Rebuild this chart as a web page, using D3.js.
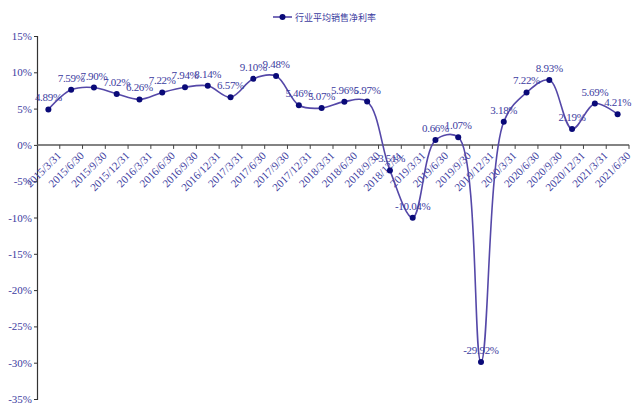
<!DOCTYPE html>
<html>
<head>
<meta charset="utf-8">
<script src="https://cdn.jsdelivr.net/npm/d3@7"></script>
<style>
  body { margin: 0; background: #fff; }
  svg { display: block; }
</style>
</head>
<body>
<div id="chart"></div>
<script>
// quarter-end dates and the industry net margin (%)
var dates = ["2015/3/31", "2015/6/30", "2015/9/30", "2015/12/31",
  "2016/3/31", "2016/6/30", "2016/9/30", "2016/12/31",
  "2017/3/31", "2017/6/30", "2017/9/30", "2017/12/31",
  "2018/3/31", "2018/6/30", "2018/9/30", "2018/12/31",
  "2019/3/31", "2019/6/30", "2019/9/30", "2019/12/31",
  "2020/3/31", "2020/6/30", "2020/9/30", "2020/12/31",
  "2021/3/31", "2021/6/30"];
var margins = [4.89, 7.59, 7.90, 7.02, 6.26, 7.22, 7.94, 8.14,
  6.57, 9.10, 9.48, 5.46, 5.07, 5.96, 5.97, -3.51,
  -10.04, 0.66, 1.07, -29.92, 3.18, 7.22, 8.93, 2.19,
  5.69, 4.21];
var yTicks = [15, 10, 5, 0, -5, -10, -15, -20, -25, -30, -35];
var seriesName = "行业平均销售净利率";

var svgWidth = 632, svgHeight = 406;
var plot = { left: 37, right: 629, top: 36, bottom: 399 };

var textColor = "#3c3ca0";
var lineColor = "#5548a8";
var dotColor = "#0a0a78";
var serif = "'Liberation Serif', 'Times New Roman', serif";

var svg = d3.select("#chart").append("svg")
  .attr("width", svgWidth)
  .attr("height", svgHeight);

var x = d3.scaleBand().domain(dates).range([plot.left, plot.right]);
var y = d3.scaleLinear().domain([-35, 15]).range([plot.bottom, plot.top]);

// y axis
var yAxis = svg.append("g")
  .attr("transform", `translate(${plot.left},0)`)
  .call(d3.axisLeft(y).tickValues(yTicks).tickSize(3).tickFormat(d => d + "%"));
yAxis.select(".domain").attr("stroke", "#333").attr("stroke-width", 1.2);
yAxis.selectAll(".tick line").attr("stroke", "#333");
yAxis.selectAll("text")
  .attr("fill", textColor)
  .attr("font-family", serif)
  .attr("font-size", 11)
  .attr("x", -5);

// x axis on the zero line, ticks at band edges
var xAxis = svg.append("g")
  .attr("transform", `translate(0,${y(0)})`);
xAxis.append("line")
  .attr("x1", plot.left).attr("x2", plot.right)
  .attr("stroke", "#5a5a5a").attr("stroke-width", 1.5);
xAxis.selectAll(".xt")
  .data(dates)
  .enter()
  .append("line")
  .attr("x1", d => x(d) + x.bandwidth())
  .attr("x2", d => x(d) + x.bandwidth())
  .attr("y1", 0).attr("y2", 4)
  .attr("stroke", "#444");

xAxis.selectAll(".xl")
  .data(dates)
  .enter()
  .append("text")
  .attr("transform", d => `translate(${x(d) + x.bandwidth() / 2 + 8},${6}) rotate(-45)`)
  .attr("text-anchor", "end")
  .attr("dy", "0.7em")
  .attr("fill", textColor)
  .attr("font-family", serif)
  .attr("font-size", 11)
  .text(d => d);

// line
var pts = dates.map((d, i) => ({ date: d, v: margins[i] }));
var line = d3.line()
  .x(d => x(d.date) + x.bandwidth() / 2)
  .y(d => y(d.v))
  .curve(d3.curveCatmullRom.alpha(0.5));

svg.append("path")
  .datum(pts)
  .attr("d", line)
  .attr("fill", "none")
  .attr("stroke", lineColor)
  .attr("stroke-width", 1.6);

svg.selectAll(".dot")
  .data(pts)
  .enter()
  .append("circle")
  .attr("cx", d => x(d.date) + x.bandwidth() / 2)
  .attr("cy", d => y(d.v))
  .attr("r", 3)
  .attr("fill", dotColor);

svg.selectAll(".lbl")
  .data(pts)
  .enter()
  .append("text")
  .attr("x", d => x(d.date) + x.bandwidth() / 2)
  .attr("y", d => y(d.v) - 8)
  .attr("text-anchor", "middle")
  .attr("fill", textColor)
  .attr("font-family", serif)
  .attr("font-size", 11)
  .attr("letter-spacing", -0.3)
  .text(d => d.v.toFixed(2) + "%");

// legend
var legend = svg.append("g").attr("transform", "translate(273,17)");
legend.append("line")
  .attr("x1", 0).attr("x2", 19)
  .attr("stroke", lineColor).attr("stroke-width", 1.6);
legend.append("circle")
  .attr("cx", 9.5).attr("r", 3).attr("fill", dotColor);
legend.append("text")
  .attr("x", 22).attr("y", 3.5)
  .attr("fill", textColor)
  .attr("font-family", "'Noto Sans CJK SC', sans-serif")
  .attr("font-size", 9)
  .text(seriesName);
</script>
</body>
</html>
